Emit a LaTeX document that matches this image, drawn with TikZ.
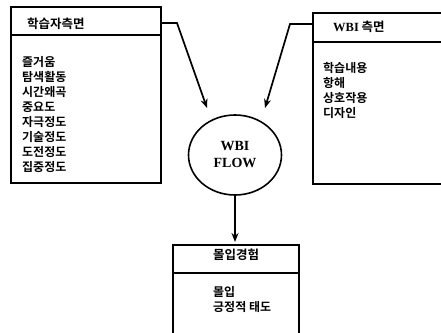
\documentclass[tikz,border=0pt]{standalone}
\usepackage{fontspec}
\setmainfont{Liberation Serif}
\newfontfamily\kr{Noto Sans CJK KR}[BoldFont={* Bold}]
\usetikzlibrary{arrows.meta,shapes.geometric}
\begin{document}
\begin{tikzpicture}[x=1pt,y=-1pt,
  box/.style={draw,line width=1.8pt,rectangle,inner sep=0pt,anchor=north west},
  rule/.style={line width=1.6pt},
  arr/.style={line width=1.7pt,-{Stealth[length=9pt,width=7pt]}},
  label/.style={font=\kr\bfseries\fontsize{12}{14}\selectfont,inner sep=0pt,anchor=west},
  head/.style={font=\kr\bfseries\fontsize{12.5}{14}\selectfont,inner sep=0pt},
  flow/.style={draw,ellipse,line width=1.6pt,minimum width=93pt,minimum height=80pt,
    font=\bfseries\fontsize{14}{17}\selectfont,align=center,inner sep=0pt}]
\clip (0,0) rectangle (441,332);
\fill[white] (0,0) rectangle (441,332);

% learner-side box
\node[box,minimum width=150pt,minimum height=176pt] (L) at (10,6) {};
\draw[rule] (10,35) -- (160,35);
\node[head,anchor=west] (Lh) at (27,24) {학습자측면};
\node[label] (l1) at (22,62) {즐거움};
\node[label] (l2) at (22,77) {탐색활동};
\node[label] (l3) at (22,92) {시간왜곡};
\node[label] (l4) at (22,107) {중요도};
\node[label] (l5) at (22,122) {자극정도};
\node[label] (l6) at (22,137) {기술정도};
\node[label] (l7) at (22,152) {도전정도};
\node[label] (l8) at (22,167) {집중정도};

% WBI-side box (runs past the right edge)
\node[box,minimum width=140pt,minimum height=171pt] (R) at (312,12) {};
\draw[rule] (312,42) -- (452,42);
\node[head,anchor=west] (Rh) at (333,27) {{\rmfamily WBI} 측면};
\node[label] (r1) at (323,68) {학습내용};
\node[label] (r2) at (323,83) {항해};
\node[label] (r3) at (323,98) {상호작용};
\node[label] (r4) at (323,113) {디자인};

% central flow ellipse
\node[flow] (F) at (235,155) {WBI\\FLOW};

% outcome box (runs past the bottom edge)
\node[box,minimum width=126pt,minimum height=92pt] (B) at (172,244) {};
\draw[rule] (172,273) -- (298,273);
\node[head] (Bh) at (236,255) {몰입경험};
\node[label] (b1) at (213,292) {몰입};
\node[label] (b2) at (213,307) {긍정적 태도};

% connectors
\coordinate (tipL) at (207,108);
\coordinate (tipR) at (265,108);
\coordinate (tipB) at (235,242);
\draw[arr] (L.east |- 0,23) -- (177,23) -- (tipL);
\draw[arr] (R.west |- 0,24) -- (290,24) -- (tipR);
\draw[arr] (F.south) -- (tipB);
\end{tikzpicture}
\end{document}
